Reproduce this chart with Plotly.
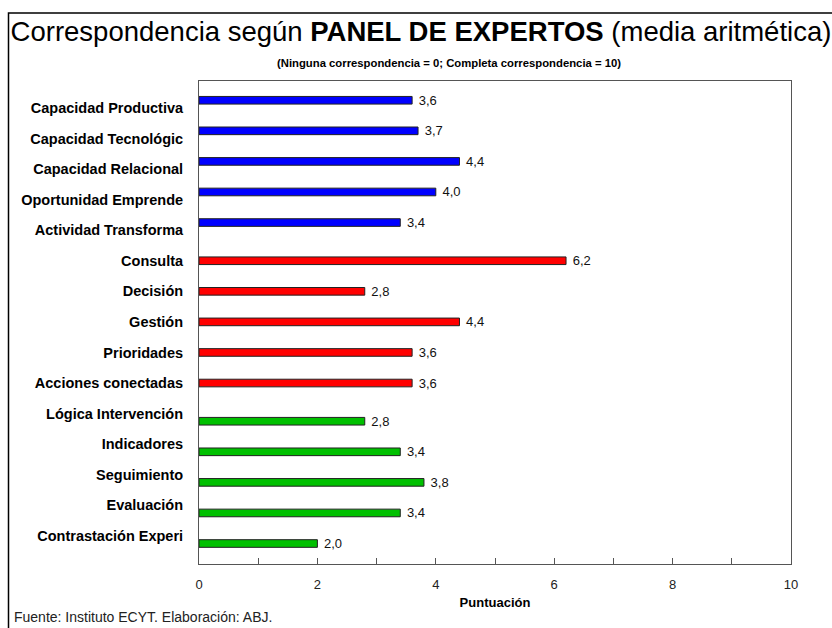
import plotly.graph_objects as go

categories = [
    "Capacidad Productiva", "Capacidad Tecnológic", "Capacidad Relacional",
    "Oportunidad Emprende", "Actividad Transforma",
    "Consulta", "Decisión", "Gestión", "Prioridades", "Acciones conectadas",
    "Lógica Intervención", "Indicadores", "Seguimiento", "Evaluación",
    "Contrastación Experi",
]
blue_cats = categories[0:5]
blue_vals = [3.6, 3.7, 4.4, 4.0, 3.4]
red_cats = categories[5:10]
red_vals = [6.2, 2.8, 4.4, 3.6, 3.6]
green_cats = categories[10:15]
green_vals = [2.8, 3.4, 3.8, 3.4, 2.0]

x_ticks = [0, 2, 4, 6, 8, 10]

FONT = "Liberation Sans, Arial, sans-serif"

fig = go.Figure()
for i, (cats, vals, col) in enumerate([(blue_cats, blue_vals, "#0000FF"),
                                       (red_cats, red_vals, "#FF0000"),
                                       (green_cats, green_vals, "#00C000")]):
    fig.add_trace(go.Bar(
        y=cats, x=vals, orientation="h",
        offsetgroup=str(i), alignmentgroup="a",
        marker=dict(color=col, line=dict(color="#222222", width=1)),
        texttemplate=" %{x:.1f}", textposition="outside", constraintext="none",
        textfont=dict(family=FONT, size=13, color="#111111"),
        cliponaxis=False, showlegend=False,
    ))

fig.update_layout(
    width=832, height=628,
    margin=dict(l=199, r=41, t=81, b=64),
    paper_bgcolor="white", plot_bgcolor="white",
    barmode="group", bargap=0.25, bargroupgap=0,
    separators=",.",
    font=dict(family=FONT, color="black"),
    title=dict(
        text="Correspondencia según <b>PANEL DE EXPERTOS</b> (media aritmética)",
        x=421 / 832, xanchor="center", xref="container",
        y=1 - 31 / 628, yanchor="middle", yref="container",
        font=dict(family=FONT, size=27.5, color="black"),
    ),
    xaxis=dict(
        range=[0, 10], tickvals=x_ticks, ticktext=[str(v) for v in x_ticks],
        ticks="inside", ticklen=6, tickcolor="#555555",
        minor=dict(dtick=1, ticks="inside", ticklen=6, tickcolor="#555555"),
        showgrid=False, zeroline=False,
        showline=True, linecolor="#555555", linewidth=1, mirror=True,
        tickfont=dict(family=FONT, size=13, color="#222222"),
        ticklabelstandoff=8,
        title=dict(text="<b>Puntuación</b>", standoff=7,
                   font=dict(family=FONT, size=13, color="black")),
    ),
    yaxis=dict(
        categoryorder="array", categoryarray=categories,
        range=[14.92, -0.88],
        showgrid=False, zeroline=False,
        showline=True, linecolor="#555555", linewidth=1, mirror=True,
        ticks="", ticklabelstandoff=12,
        tickfont=dict(family=FONT, size=14.5, color="black", weight="bold"),
    ),
    annotations=[
        dict(text="<b>(Ninguna correspondencia = 0; Completa correspondencia = 10)</b>",
             xref="paper", yref="paper", x=(449 - 199) / 592, y=(564 - 63) / 483,
             xanchor="center", yanchor="middle", showarrow=False,
             font=dict(family=FONT, size=11.3, color="black")),
        dict(text="Fuente: Instituto ECYT. Elaboración: ABJ.",
             xref="paper", yref="paper", x=(12 - 199) / 592, y=(564 - 617) / 483,
             xanchor="left", yanchor="middle", showarrow=False,
             font=dict(family=FONT, size=14, color="#222222")),
    ],
    shapes=[
        dict(type="rect", xref="paper", yref="paper",
             x0=(8.5 - 199) / 592, x1=(840 - 199) / 592,
             y0=(564 - 13) / 483, y1=(564 - 640) / 483,
             line=dict(color="black", width=1.5), layer="below"),
    ],
)

fig.write_html("out.html", config={"displayModeBar": False},
               post_script="document.body.style.margin='0';document.body.style.padding='0';")
